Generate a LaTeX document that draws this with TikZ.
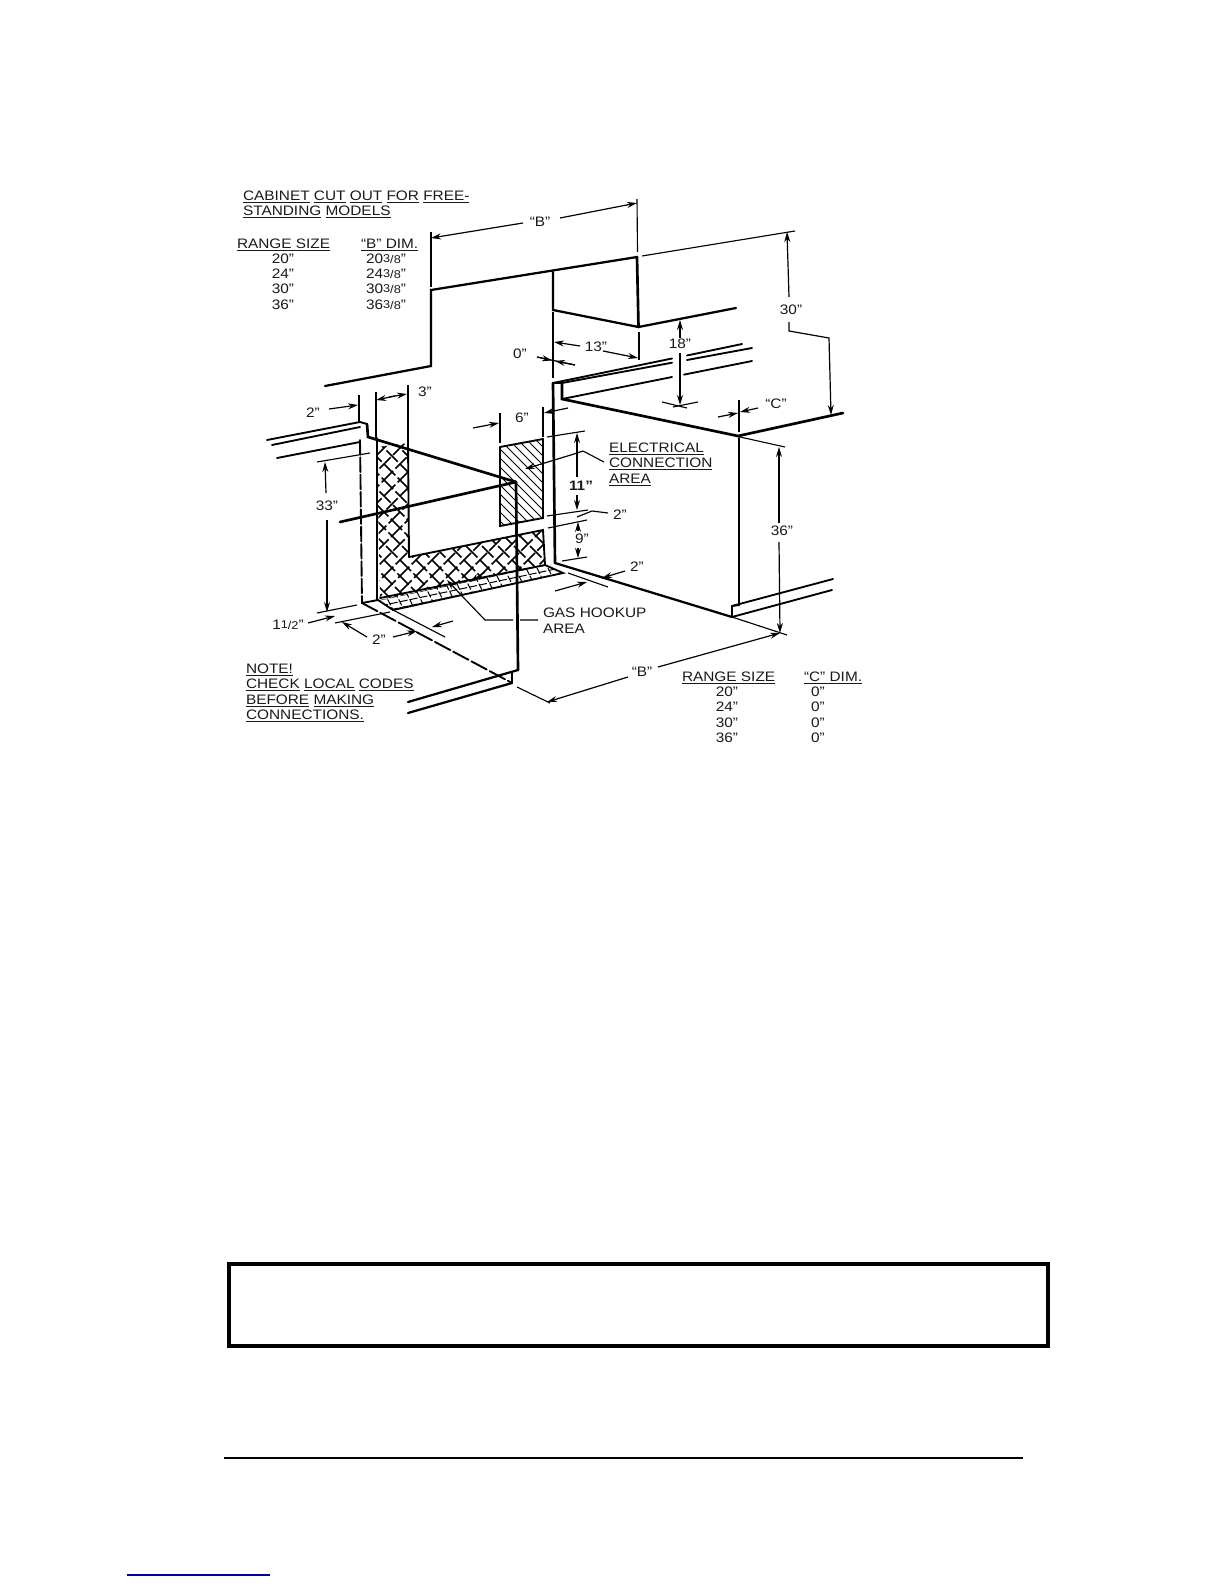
\documentclass[tikz,border=0pt]{standalone}
\usepackage{fontspec}
\setmainfont[FakeStretch=1.12]{Liberation Sans}
\usetikzlibrary{arrows.meta}
\newcommand{\ulw}[1]{\underline{#1}}
\newcommand{\frc}[2]{{\fontsize{8.5}{9}\selectfont\raisebox{1pt}{#1}/#2}}
\tikzset{
  x=0.75pt,y=-0.75pt,
  heavy/.style={line width=2pt,line cap=round,line join=miter},
  medium/.style={line width=1.4pt,line cap=round},
  ext/.style={line width=0.85pt},
  dimline/.style={line width=0.9pt,-{Stealth[length=7.5pt,width=4.5pt]}},
  lbl/.style={inner sep=0pt,outer sep=0pt,font=\fontsize{10.3}{12}\selectfont,text=black!90},
  tx/.style={lbl,anchor=base west},
  ct/.style={lbl,anchor=center},
  longdash/.style={dash pattern=on 11pt off 2pt},
  hatchx/.style={line width=1.3pt,dash pattern=on 12pt off 2.5pt},
}
\begin{document}
\begin{tikzpicture}
\useasboundingbox (0,0) rectangle (1224,1584);

% ---- hatching ----
\begin{scope}
  \clip (377,447)--(408,443)--(409,557)--(543,530)--(545,565)--(380,600)--cycle;
  \foreach \c in {-400,-384,...,400} {
    \draw[hatchx] (460+\c,300)--(460+\c+360,660);
    \draw[hatchx] (460+\c,660)--(460+\c+360,300);
  }
\end{scope}
\begin{scope}
  \clip (380,600)--(545,565)--(563,573)--(393,610)--cycle;
  \foreach \c in {-300,-289,...,300} {
    \draw[line width=0.75pt,dash pattern=on 5pt off 1.6pt] (470+\c,560)--(470+\c+30,620);
  }
  \foreach \d in {590,596,...,620} {
    \draw[line width=0.75pt,dash pattern=on 6pt off 1.6pt] (370,\d)--(570,\d-42);
  }
\end{scope}
\begin{scope}
  \clip (500,447)--(543,439)--(543,518)--(500,526)--cycle;
  \foreach \c in {-100,-91,...,60} {
    \draw[line width=0.75pt] (500+\c,430)--(500+\c+120,550);
  }
\end{scope}
\draw[medium] (500,447)--(543,439);
\draw[medium] (543,439)--(543,518)--(500,526)--(500,447);

% ---- upper wall / cabinet ----
\draw[heavy,line width=1.7pt] (325,386)--(431,366)--(431,290)--(637,257);
\draw[heavy] (637,257)--(638.5,327);
\draw[heavy,line width=1.7pt] (553,272)--(553,310)--(638.5,327)--(736,308);
\draw[ext] (642,256)--(795,231);
\draw[ext] (637,199)--(637.5,252);
\draw[ext] (431,232)--(431,287);

% ---- right counter ----
\draw[heavy] (843,413)--(738,436)--(562,399)--(562,383);
\draw[medium] (553,383)--(562,383);
\draw[medium] (553,383)--(672,358.5) (687,355.5)--(742,344);
\draw[medium] (562,383)--(672,362.7) (687,360)--(752,348);
\draw[medium] (562,399)--(672,377) (684,374.6)--(752,361);
\draw[heavy] (553,383)--(555,563);
\draw[ext] (553,312)--(553,378);
\draw[heavy] (739,438)--(739,605);
\draw[medium] (732,606)--(833,579);
\draw[medium] (732,617)--(832,590);
\draw[medium] (732,606)--(739,605);
\draw[medium] (732,606)--(732,617);
\draw[heavy,line width=1.7pt] (555,563)--(732,617);
\draw[ext] (732,617)--(787,635);
\draw[ext] (740,437)--(785,447);

% ---- left counter + range opening ----
\draw[medium] (267,440)--(360,422)--(367,424);
\draw[medium] (272,445)--(360,427);
\draw[medium] (277,458)--(360,442);
\draw[heavy] (367,424)--(368,437)--(516,482);
\draw[heavy] (340,522)--(516,482);
\draw[heavy] (516,482)--(518,670);
\draw[heavy,line width=1.7pt] (518,670)--(408,702);
\draw[heavy,line width=1.7pt] (512,683)--(408,713);
\draw[medium] (512,672)--(512,683);
\draw[medium] (377,438)--(377,600);
\draw[medium] (408,443)--(409,557);
\draw[medium] (409,557)--(543,530)--(545,565);
\draw[medium] (380,598)--(545,565);
\draw[medium] (545,565)--(563,573)--(393,610)--(378,600);
\draw[medium,longdash] (360,440)--(362,603);
\draw[medium,dash pattern=on 13pt off 2.5pt] (362,603)--(512,683);
\draw[medium] (362,603)--(378,600);

% ---- extension lines ----
\draw[ext] (359,395)--(359,422);
\draw[ext] (376,392)--(376,440);
\draw[ext] (408,385)--(408,445);
\draw[ext] (500,413)--(500,443);
\draw[ext] (543,407)--(543,437);
\draw[ext] (639,332)--(639,360);
\draw[ext] (739,400)--(739,432);
\draw[ext] (547,437)--(585,431);
\draw[ext] (547,516)--(588,510);
\draw[ext] (548,528)--(587,520);
\draw[ext] (562,561)--(587,557);
\draw[ext] (568,573)--(608,587);
\draw[ext] (317,462)--(370,453);
\draw[ext] (317,613)--(357,605);
\draw[ext] (335,623)--(390,612);
\draw[ext] (393,610)--(445,637);
\draw[ext] (517,687)--(550,703);
\draw[ext] (662,402)--(687,408);
\draw[ext] (673,407)--(698,402);

% ---- dimension arrows ----
\draw[dimline] (523,223)--(431,238);
\draw[dimline] (560,218)--(637,203);
\draw[dimline] (789,297)--(787,232);
\draw[dimline] (789,322)--(789,331)--(829,338)--(831,415);
\draw[dimline] (580,346)--(554,342);
\draw[dimline] (603,351)--(638,358);
\draw[ext] (537,357)--(575,365);
\draw[dimline] (537,357)--(552,360.5);
\draw[dimline] (575,365)--(555,361);
\draw[dimline] (680,338)--(680,320);
\draw[dimline] (680,353)--(680,405);
\draw[dimline] (718,417)--(738,413);
\draw[dimline] (758,408)--(740,412);
\draw[dimline] (329,409)--(358,405);
\draw[dimline] (473,428)--(499,423);
\draw[dimline] (568,408)--(544,413);
\draw[dimline] (395,396)--(376,400);
\draw[dimline] (389,397)--(407,394);
\draw[dimline] (577,477)--(577,433);
\draw[dimline] (577,495)--(577,510);
\draw[dimline] (578,531)--(578,522);
\draw[dimline] (578,548)--(578,558);
\draw[dimline] (625,571)--(602,578);
\draw[dimline] (555,591)--(587,582);
\draw[dimline] (779,523)--(779,447);
\draw[dimline] (779,542)--(780,633);
\draw[dimline] (628,677)--(547,702);
\draw[dimline] (658,667)--(780,633);
\draw[dimline] (326,493)--(325,462);
\draw[dimline] (327,520)--(327,612);
\draw[dimline] (308,623)--(335,616);
\draw[dimline] (367,637)--(342,622);
\draw[dimline] (393,637)--(417,631);
\draw[dimline] (453,621)--(432,627);
\draw[ext] (577,517)--(592,511)--(608,513);
% leaders
\draw[dimline] (583,451)--(574,454)--(525,469);
\draw[ext] (583,451)--(604,462);
\draw[ext] (463,597)--(485,620)--(513,620) (520,620)--(538,620);
\draw[dimline] (485,572)--(470,582);
\draw[dimline] (463,597)--(447,580);

% ---- texts ----
\node[tx] (t1) at (243,200) {\ulw{CABINET} \ulw{CUT} \ulw{OUT} \ulw{FOR} \ulw{FREE-}};
\node[tx] (t2) at (243,215) {\ulw{STANDING} \ulw{MODELS}};
\node[tx] (r1) at (237,248) {\ulw{RANGE SIZE}};
\node[tx] (b1) at (361,248) {\ulw{“B” DIM.}};
\node[ct] (r20) at (283,259) {20”};
\node[ct] (r24) at (283,274) {24”};
\node[ct] (r30) at (283,289) {30”};
\node[ct] (r36) at (283,305) {36”};
\node[ct] (b20) at (386,259) {20\frc{3}{8}”};
\node[ct] (b24) at (386,274) {24\frc{3}{8}”};
\node[ct] (b30) at (386,289) {30\frc{3}{8}”};
\node[ct] (b36) at (386,305) {36\frc{3}{8}”};
\node[ct] (bt) at (540,222) {“B”};
\node[ct] (d30) at (791,310) {30”};
\node[ct] (d13) at (596,347) {13”};
\node[ct] (d0) at (520,354) {0”};
\node[ct] (d18) at (680,344) {18”};
\node[ct] (dc) at (776,404) {“C”};
\node[ct] (d3) at (425,392) {3”};
\node[ct] (d2a) at (313,413) {2”};
\node[ct] (d6) at (522,418) {6”};
\node[ct] (d33) at (327,506) {33”};
\node[ct] (d11) at (581,486) {\bfseries 11”};
\node[ct] (d2b) at (620,515) {2”};
\node[ct] (d9) at (582,539) {9”};
\node[ct] (d2c) at (637,567) {2”};
\node[ct] (d36) at (782,531) {36”};
\node[ct] (bb) at (642,672) {“B”};
\node[ct] (d112) at (288,625) {1\frc{1}{2}”};
\node[ct] (d2d) at (379,640) {2”};
\node[tx] (e1) at (609,452) {\ulw{ELECTRICAL}};
\node[tx] (e2) at (609,467) {\ulw{CONNECTION}};
\node[tx] (e3) at (609,483) {\ulw{AREA}};
\node[tx] (g1) at (543,617) {GAS HOOKUP};
\node[tx] (g2) at (543,633) {AREA};
\node[tx] (n1) at (246,673) {\ulw{NOTE!}};
\node[tx] (n2) at (246,688) {\ulw{CHECK} \ulw{LOCAL} \ulw{CODES}};
\node[tx] (n3) at (246,704) {\ulw{BEFORE} \ulw{MAKING}};
\node[tx] (n4) at (246,719) {\ulw{CONNECTIONS.}};
\node[tx] (r2) at (682,681) {\ulw{RANGE SIZE}};
\node[tx] (c1) at (804,681) {\ulw{“C” DIM.}};
\node[ct] (s20) at (727,692) {20”};
\node[ct] (s24) at (727,707) {24”};
\node[ct] (s30) at (727,723) {30”};
\node[ct] (s36) at (727,738) {36”};
\node[ct] (c20) at (818,692) {0”};
\node[ct] (c24) at (818,707) {0”};
\node[ct] (c30) at (818,723) {0”};
\node[ct] (c36) at (818,738) {0”};

% ---- page furniture ----
\draw[line width=2.6pt] (229,1264) rectangle (1048,1346);
\draw[line width=1pt] (224,1458)--(1023,1458);
\draw[line width=1pt,color=blue!65!black] (127,1575)--(270,1575);
\end{tikzpicture}
\end{document}
